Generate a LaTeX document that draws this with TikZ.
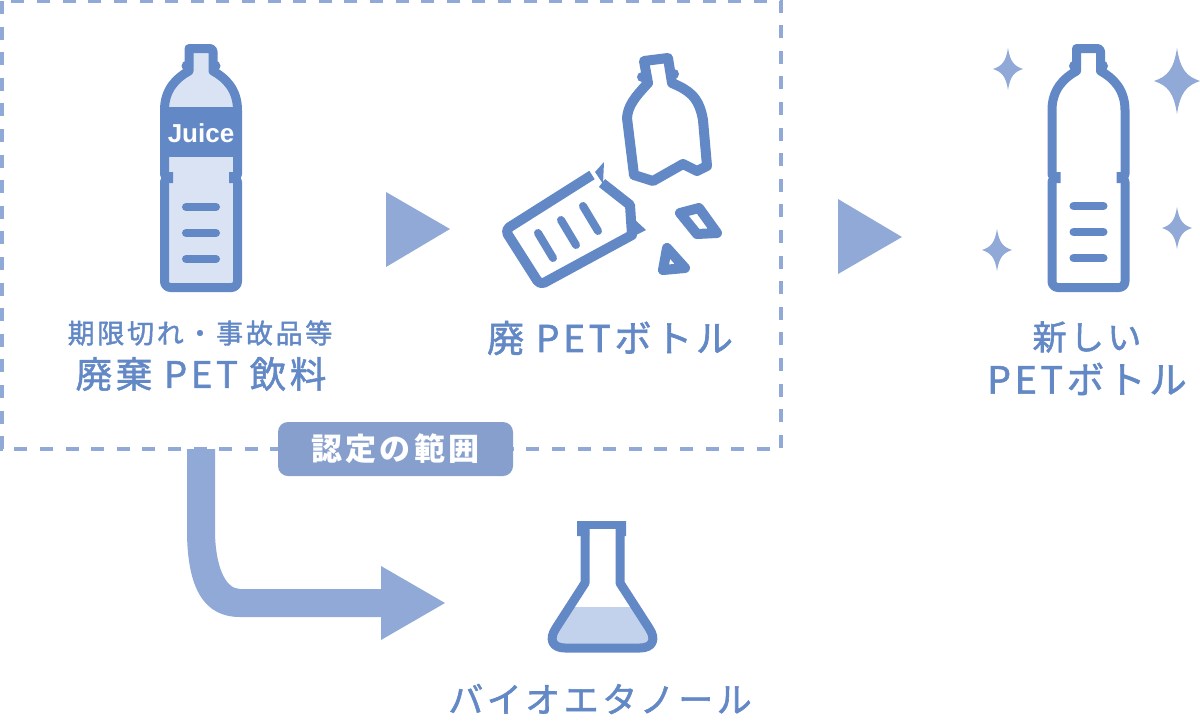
\documentclass[tikz,border=0pt]{standalone}
\usepackage{fontspec}
\setmainfont{Noto Sans CJK JP}
\newfontfamily\cjk[LetterSpace=10,FakeBold=1.6]{Noto Sans CJK JP}
\newfontfamily\cjkrotulo[LetterSpace=10]{Noto Sans CJK JP}
\newfontfamily\latina{Liberation Sans}
\definecolor{azul}{HTML}{6288C6}
\definecolor{azulclaro}{HTML}{91A9D7}
\definecolor{azulrotulo}{HTML}{869FCC}
\definecolor{relleno}{HTML}{DAE3F3}
\definecolor{liquido}{HTML}{C3D2EC}
\newcommand{\tam}[1]{\fontsize{#1}{#1}\selectfont}

% Contorno de la botella (centrada en x=0)
\def\botella{
    (-12,71) -- (-12,48.5) [rounded corners=3] -- (12,48.5) [sharp corners] -- (12,71)
    .. controls (25,78) and (36.5,90) .. (36.5,110) -- (36.5,174) -- (35,178) -- (36.5,182)
    [rounded corners=6] -- (36.5,287.5) -- (-36.5,287.5) [sharp corners] -- (-36.5,182)
    -- (-35,178) -- (-36.5,174) -- (-36.5,110) .. controls (-36.5,90) and (-25,78) .. cycle
}
% Estrella de cuatro puntas (radio 1)
\def\estrella{
    (0,-1) .. controls (0.14,-0.36) and (0.4,-0.14) .. (1,0)
    .. controls (0.4,0.14) and (0.14,0.36) .. (0,1)
    .. controls (-0.14,0.36) and (-0.4,0.14) .. (-1,0)
    .. controls (-0.4,-0.14) and (-0.14,-0.36) .. cycle
}

\begin{document}
\begin{tikzpicture}[
    x=1pt, y=-1pt,
    trazo/.style={draw=azul, line width=9pt, line join=round},
    roto/.style={draw=azul, line width=10pt, line join=round},
    raya/.style={draw=azul, line width=8pt, line cap=round},
    detalle/.style={fill=azul},
    destello/.style={fill=azulclaro},
    flecha/.style={fill=azulclaro},
    etiqueta/.style={text=azul, inner sep=0pt, align=center, font=\cjk}
]
\useasboundingbox (0,0) rectangle (1200,721);

% Marco del alcance
\draw[azulclaro, line width=4pt, dash pattern=on 13pt off 12.6pt] (1.5,1) rectangle (781,449);

% Botella con zumo
\begin{scope}[shift={(201,0)}]
    \fill[relleno] \botella;
    \fill[azul] (-37,107) rectangle (37,157);
    \draw[trazo] \botella;
    \fill[detalle] (-14,66) circle (5.5) (14,66) circle (5.5);
    \fill[detalle] (-37,172) rectangle (-28,183) (37,172) rectangle (28,183);
    \foreach \y in {207,233,259} \draw[raya] (-15,\y) -- (15,\y);
    \node[text=white, inner sep=0pt, font=\latina\bfseries\tam{26}] (juice) at (0,133) {Juice};
\end{scope}

% Flechas de proceso
\fill[flecha] (386,192) -- (386,267) -- (450,229) -- cycle;
\fill[flecha] (838,199) -- (838,274) -- (902,237) -- cycle;

% Botella rota: parte superior
\draw[roto] (644,61) -- (668,58) -- (672,83) .. controls (688,90) and (699,96) .. (703,120)
    -- (707,166) -- (697,171) -- (683,164) -- (653,181) -- (634,175) -- (627,118)
    .. controls (628,106) and (634,98) .. (648,83) -- cycle;
\fill[detalle] (642,77) circle (5) (674,74) circle (5);

% Botella rota: parte inferior
\draw[roto] (592,175) [rounded corners=5] -- (505,230) -- (540,285) [sharp corners] -- (632,235) -- (630,205) -- (602,183);
\fill[detalle] (595,172) -- (604,162) -- (603,184) -- cycle;
\fill[detalle] (633,218) -- (646,230) -- (630,238) -- cycle;
\draw[raya] (538,233) -- (553,258);
\draw[raya] (561,220) -- (576,245);
\draw[raya] (583,206) -- (598,231);

% Fragmentos
\draw[roto] (680,213) -- (699,208) -- (717,233) -- (697,234) -- cycle;
\draw[roto] (667,248) -- (685,268) -- (663,270) -- cycle;

% Botella nueva
\begin{scope}[shift={(1088.5,0)}]
    \draw[trazo] \botella;
    \fill[detalle] (-14,66) circle (5.5) (14,66) circle (5.5);
    \fill[detalle] (-37,172) rectangle (-28,183) (37,172) rectangle (28,183);
    \foreach \y in {206,232,258} \draw[raya] (-15,\y) -- (15,\y);
\end{scope}

% Destellos
\fill[destello, shift={(1008,69)}, xscale=15, yscale=21] \estrella;
\fill[destello, shift={(1177,81)}, xscale=23, yscale=33] \estrella;
\fill[destello, shift={(997,250)}, xscale=15, yscale=21] \estrella;
\fill[destello, shift={(1177,228)}, xscale=15, yscale=21] \estrella;

% Flecha curva
\fill[flecha] (187,449) -- (187,530) .. controls (187,590) and (205,617) .. (240,617)
    -- (381,617) -- (381,640) -- (445,603) -- (381,566) -- (381,589) -- (240,589)
    .. controls (225,589) and (215,565) .. (215,530) -- (215,449) -- cycle;

% Rotulo
\node[fill=azulrotulo, rounded corners=10pt, minimum width=235pt, minimum height=54pt,
    inner sep=0pt, text=white, font=\cjkrotulo\bfseries\tam{31}] (rotulo) at (395.5,449) {認定の範囲};

% Matraz
\fill[liquido] (570,607) -- (635,607) -- (652,635) -- (650,648) -- (555,648) -- (553,635) -- cycle;
\draw[trazo] (585,525) -- (585,583) -- (556,628) .. controls (548,640) and (553,648) .. (565,648)
    -- (640,648) .. controls (652,648) and (657,640) .. (649,628) -- (620,583) -- (620,525);
\draw[azul, line width=8pt] (577,525) -- (626,525);
\fill[detalle] (577,521) rectangle (589,536) (616,521) rectangle (626,536);

% Textos
\node[etiqueta, font=\cjk\tam{27}] (origen) at (200,333) {期限切れ・事故品等};
\node[etiqueta, font=\cjk\tam{36.5}] (bebida) at (201,374) {廃棄 PET 飲料};
\node[etiqueta, font=\cjk\tam{37}] (rota) at (610,338) {廃 PETボトル};
\node[etiqueta, font=\cjk\tam{34}] (nueva) at (1087,337) {新しい};
\node[etiqueta, font=\cjk\tam{37.5}] (nuevapet) at (1087,379) {PETボトル};
\node[etiqueta, font=\cjk\tam{35}] (etanol) at (600,699) {バイオエタノール};

\end{tikzpicture}
\end{document}
